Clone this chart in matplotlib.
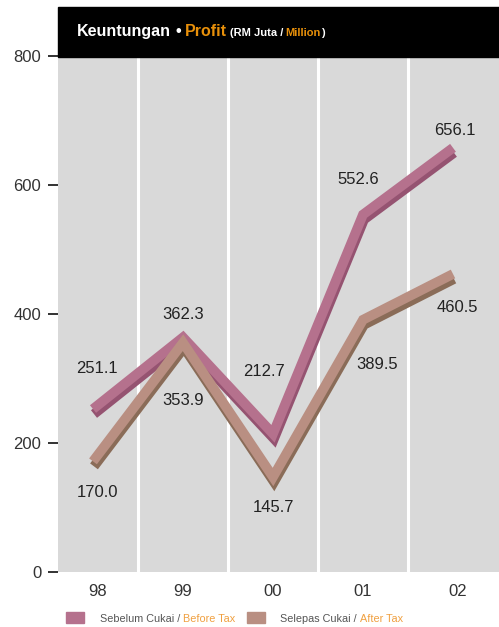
import matplotlib
matplotlib.use("Agg")
import matplotlib.pyplot as plt
from matplotlib import font_manager as fm
from matplotlib.transforms import offset_copy, ScaledTranslation
from matplotlib.patches import Rectangle

# ---- data ----
years = ["98", "99", "00", "01", "02"]
before_tax = [251.1, 362.3, 212.7, 552.6, 656.1]
after_tax = [170.0, 353.9, 145.7, 389.5, 460.5]
yticks = [0, 200, 400, 600, 800]

# label offsets in pixels (dx, dy) relative to each point (layout only)
before_off = [(4, 42), (0, 24), (-9, 63), (-5, 36), (2, 18)]
after_off = [(4, -30), (0, -57), (0, -29), (14, -44), (4, -33)]

def has(f):
    try:
        fm.findfont(fm.FontProperties(family=f), fallback_to_default=False)
        return True
    except Exception:
        return False

FONT = "Liberation Sans Narrow" if has("Liberation Sans Narrow") else "Liberation Sans"
plt.rcParams["font.family"] = [FONT, "DejaVu Sans"]

W, H = 499, 627
fig = plt.figure(figsize=(W / 100, H / 100), dpi=100)
ax = fig.add_axes([58 / W, 1 - 572 / H, 1 - 58 / W, (572 - 56) / H])
ax.set_facecolor("#d9d9d9")
for s in ax.spines.values():
    s.set_visible(False)

x = list(range(len(years)))
ax.set_xlim((58 - 93) / 90, (499 - 93) / 90)
ax.set_ylim(0, 800)

for m in [0.5, 1.5, 2.5, 3.5]:
    ax.axvline(m, color="white", lw=2.2, zorder=1)

def ribbon(vals, top, side, z):
    tside = offset_copy(ax.transData, fig=fig, x=1, y=-4, units="dots")
    ttop = offset_copy(ax.transData, fig=fig, x=0, y=1, units="dots")
    ax.plot(x, vals, color=side, lw=7, transform=tside, zorder=z,
            solid_joinstyle="miter", solid_capstyle="butt")
    ax.plot(x, vals, color=top, lw=7, transform=ttop, zorder=z + 0.1,
            solid_joinstyle="miter", solid_capstyle="butt")

ribbon(before_tax, "#b5718d", "#955371", 3)
ribbon(after_tax, "#b98f82", "#8a6c58", 4)

for xi, v, (dx, dy) in zip(x, before_tax, before_off):
    ax.annotate(f"{v:.1f}", (xi, v), xytext=(dx * 0.72, dy * 0.72),
                textcoords="offset points", ha="center", va="center",
                fontsize=12, color="#222222", zorder=6)
for xi, v, (dx, dy) in zip(x, after_tax, after_off):
    ax.annotate(f"{v:.1f}", (xi, v), xytext=(dx * 0.72, dy * 0.72),
                textcoords="offset points", ha="center", va="center",
                fontsize=12, color="#222222", zorder=6)

ax.set_yticks(yticks)
ax.set_yticklabels([str(t) for t in yticks])
ax.set_xticks(x)
ax.set_xticklabels(years)
ax.tick_params(axis="y", length=7, width=1.3, color="#222222", pad=5,
               labelsize=12, labelcolor="#333333")
ax.tick_params(axis="x", length=0, pad=9, labelsize=12, labelcolor="#333333")
xl = ax.get_xticklabels()
for i in (0, len(xl) - 1):
    xl[i].set_transform(xl[i].get_transform() + ScaledTranslation(5 / 100, 0, fig.dpi_scale_trans))

# title band
fig.patches.append(Rectangle((58 / W, 1 - 57 / H), 1 - 58 / W, 50 / H,
                             transform=fig.transFigure, color="black", zorder=0))

fig.canvas.draw()
renderer = fig.canvas.get_renderer()

def rich(x0px, ybase_px, pieces):
    xp = x0px
    for txt, col, size, weight, gap in pieces:
        t = fig.text(xp / W, 1 - ybase_px / H, txt, color=col, fontsize=size,
                     fontweight=weight, ha="left", va="baseline")
        w = t.get_window_extent(renderer).width
        xp += w + gap

ORANGE = "#e8900a"
rich(77, 36, [
    ("Keuntungan", "white", 11.5, "bold", 4),
    ("\u2022", "white", 11.5, "bold", 4),
    ("Profit", ORANGE, 11.5, "bold", 3),
    ("(RM Juta /", "white", 8, "bold", 2.5),
    ("Million", ORANGE, 8, "bold", 0),
    (")", "white", 8, "bold", 0),
])

# legend
LG = "#555555"
LO = "#f0a040"
fig.patches.append(Rectangle((66 / W, 1 - 623 / H), 18 / W, 11 / H,
                             transform=fig.transFigure, color="#b5718d"))
fig.patches.append(Rectangle((247 / W, 1 - 623 / H), 18 / W, 11 / H,
                             transform=fig.transFigure, color="#b98f82"))
rich(100, 622, [
    ("Sebelum Cukai /", LG, 7.8, "normal", 3),
    ("Before Tax", LO, 7.8, "normal", 0),
])
rich(280, 622, [
    ("Selepas Cukai /", LG, 7.8, "normal", 3),
    ("After Tax", LO, 7.8, "normal", 0),
])

fig.savefig("out.png", dpi=100)
